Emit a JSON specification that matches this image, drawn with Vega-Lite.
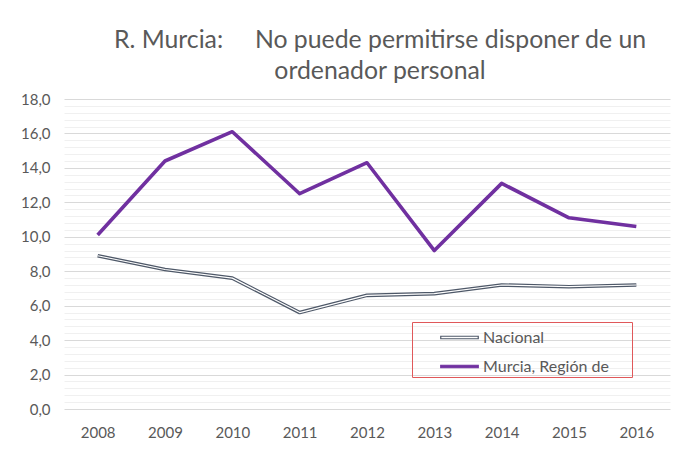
{
  "$schema": "https://vega.github.io/schema/vega-lite/v6.json",
  "width": 606,
  "height": 310,
  "autosize": {"type": "none"},
  "padding": {"left": 64, "top": 99, "right": 19, "bottom": 41},
  "background": "white",
  "config": {"view": {"stroke": null}, "font": "Lato"},
  "title": {
    "text": ["R. Murcia:\u00a0\u00a0\u00a0\u00a0 No puede permitirse disponer de un", "ordenador personal"],
    "fontSize": 24.8,
    "fontWeight": "normal",
    "color": "#595959",
    "anchor": "middle",
    "lineHeight": 31,
    "dx": 13,
    "offset": 8
  },
  "data": {
    "values": [
      {"year": "2008", "serie": "Nacional", "value": 8.9},
      {"year": "2009", "serie": "Nacional", "value": 8.1},
      {"year": "2010", "serie": "Nacional", "value": 7.6},
      {"year": "2011", "serie": "Nacional", "value": 5.6},
      {"year": "2012", "serie": "Nacional", "value": 6.6},
      {"year": "2013", "serie": "Nacional", "value": 6.7},
      {"year": "2014", "serie": "Nacional", "value": 7.2},
      {"year": "2015", "serie": "Nacional", "value": 7.1},
      {"year": "2016", "serie": "Nacional", "value": 7.2},
      {"year": "2008", "serie": "Murcia, Región de", "value": 10.1},
      {"year": "2009", "serie": "Murcia, Región de", "value": 14.4},
      {"year": "2010", "serie": "Murcia, Región de", "value": 16.1},
      {"year": "2011", "serie": "Murcia, Región de", "value": 12.5},
      {"year": "2012", "serie": "Murcia, Región de", "value": 14.3},
      {"year": "2013", "serie": "Murcia, Región de", "value": 9.2},
      {"year": "2014", "serie": "Murcia, Región de", "value": 13.1},
      {"year": "2015", "serie": "Murcia, Región de", "value": 11.1},
      {"year": "2016", "serie": "Murcia, Región de", "value": 10.6}
    ]
  },
  "layer": [
    {
      "mark": {"type": "line", "strokeWidth": 3.6, "strokeJoin": "round"},
      "encoding": {
        "x": {
          "field": "year",
          "type": "ordinal",
          "scale": {"type": "point", "padding": 0.5},
          "axis": {
            "title": null,
            "labelAngle": 0,
            "ticks": false,
            "domain": false,
            "grid": false,
            "labelFontSize": 15,
            "labelColor": "#595959",
            "labelPadding": 16
          }
        },
        "y": {
          "field": "value",
          "type": "quantitative",
          "scale": {"domain": [0, 18], "nice": false},
          "axis": {
            "title": null,
            "values": [0, 2, 4, 6, 8, 10, 12, 14, 16, 18],
            "labelExpr": "replace(format(datum.value, '.1f'), '.', ',')",
            "ticks": false,
            "domain": false,
            "grid": true,
            "gridColor": "#d9d9d9",
            "gridWidth": 1,
            "labelFontSize": 15,
            "labelColor": "#595959",
            "labelPadding": 14
          }
        },
        "color": {
          "field": "serie",
          "type": "nominal",
          "scale": {"domain": ["Nacional", "Murcia, Región de"], "range": ["#4e5868", "#7030a0"]},
          "legend": {
            "title": null,
            "orient": "none",
            "legendX": 348,
            "legendY": 223,
            "strokeColor": "#e0585a",
            "padding": 2,
            "symbolType": "M-1.5,-0.1H1.5V0.1H-1.5Z",
            "symbolSize": 625,
            "symbolStrokeWidth": 1.2,
            "symbolOffset": 32,
            "labelOffset": 10,
            "labelFontSize": 16,
            "labelColor": "#595959",
            "labelExpr": "datum.label + '\u00a0\u00a0\u00a0\u00a0\u00a0\u200b'",
            "rowPadding": 7,
            "encode": {
              "symbols": {
                "update": {
                  "fill": {"signal": "datum.value === 'Nacional' ? '#ffffff' : '#7030a0'"}
                }
              }
            }
          }
        }
      }
    },
    {
      "transform": [{"filter": "datum.serie === 'Nacional'"}],
      "mark": {"type": "line", "color": "#ffffff", "strokeWidth": 1.2, "strokeJoin": "round"},
      "encoding": {
        "x": {"field": "year", "type": "ordinal", "scale": {"type": "point", "padding": 0.5}},
        "y": {
          "field": "value",
          "type": "quantitative",
          "axis": {
            "orient": "right",
            "title": null,
            "labels": false,
            "ticks": false,
            "domain": false,
            "grid": true,
            "gridColor": "#f0f0f0",
            "values": [0.4, 0.8, 1.2, 1.6, 2.4, 2.8, 3.2, 3.6, 4.4, 4.8, 5.2, 5.6, 6.4, 6.8, 7.2, 7.6, 8.4, 8.8, 9.2, 9.6, 10.4, 10.8, 11.2, 11.6, 12.4, 12.8, 13.2, 13.6, 14.4, 14.8, 15.2, 15.6, 16.4, 16.8, 17.2, 17.6]
          }
        }
      }
    }
  ],
  "resolve": {"axis": {"y": "independent"}}
}
